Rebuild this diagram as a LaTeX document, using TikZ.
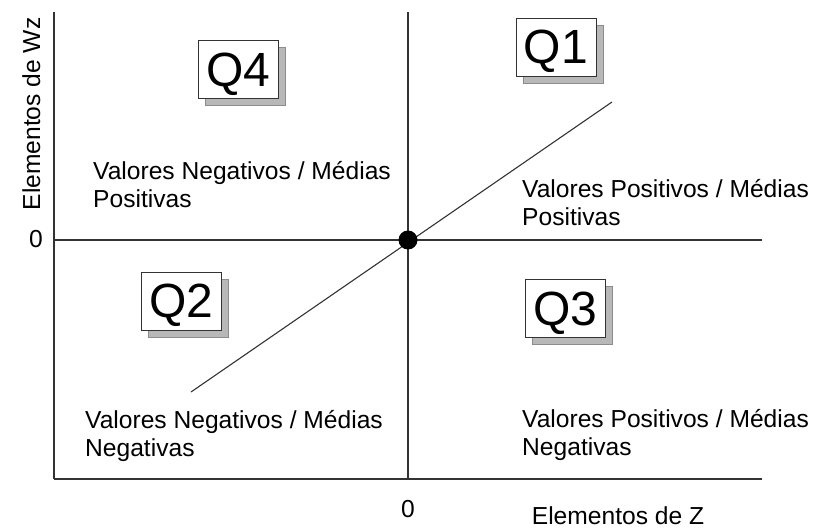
\documentclass[tikz,border=0pt]{standalone}
\usepackage{fontspec}
\setmainfont{Liberation Sans}
\usetikzlibrary{shadows}
\tikzstyle{txt}=[font=\fontsize{24.6}{28}\selectfont, inner sep=0]
\tikzstyle{region}=[txt, align=left, anchor=north west]
\tikzstyle{quad}=[draw=black!80, fill=white, line width=0.8pt, minimum width=80, minimum height=58, inner sep=0, text depth=0pt, font=\fontsize{48}{48}\selectfont, drop shadow={shadow xshift=7pt, shadow yshift=-7pt, fill=black!28, draw=black!45, opacity=1}]
\tikzstyle{axis}=[line width=1.1pt, draw=black!80]
\begin{document}
\begin{tikzpicture}[x=1pt, y=-1pt]
    \useasboundingbox (0,0) rectangle (814,529);
    \coordinate (tl) at (54,12);
    \coordinate (bl) at (54,479);
    \coordinate (br) at (762,479);
    \coordinate (ml) at (54,240);
    \coordinate (mr) at (762,240);
    \coordinate (mt) at (408,12);
    \coordinate (mb) at (408,479);
    \coordinate (d1) at (191,392);
    \coordinate (d2) at (612,102);

    \foreach \from/\to in {tl/bl, bl/br, ml/mr, mt/mb, d1/d2}
      \draw[axis] (\from) -- (\to);

    \node[circle, fill=black, minimum size=19, inner sep=0] (o) at (408,240) {};

    \node[quad] (q4) at (238.5,69.5) {Q4};
    \node[quad] (q1) at (556,47) {Q1};
    \node[quad] (q2) at (181.5,301) {Q2};
    \node[quad] (q3) at (565.5,308.5) {Q3};

    \node[region] (nvmp) at (93,161) {Valores Negativos / Médias\\Positivas};
    \node[region] (pvmp) at (522,179) {Valores Positivos / Médias\\Positivas};
    \node[region] (nvmn) at (85,410) {Valores Negativos / Médias\\Negativas};
    \node[region] (pvmn) at (522,409) {Valores Positivos / Médias\\Negativas};

    \node[txt, rotate=90, anchor=base] (wz) at (40,114) {Elementos de Wz};
    \node[txt] (zy) at (36,239) {0};
    \node[txt] (zx) at (408,509) {0};
    \node[txt, anchor=base] (z) at (618,524) {Elementos de Z};
\end{tikzpicture}
\end{document}
